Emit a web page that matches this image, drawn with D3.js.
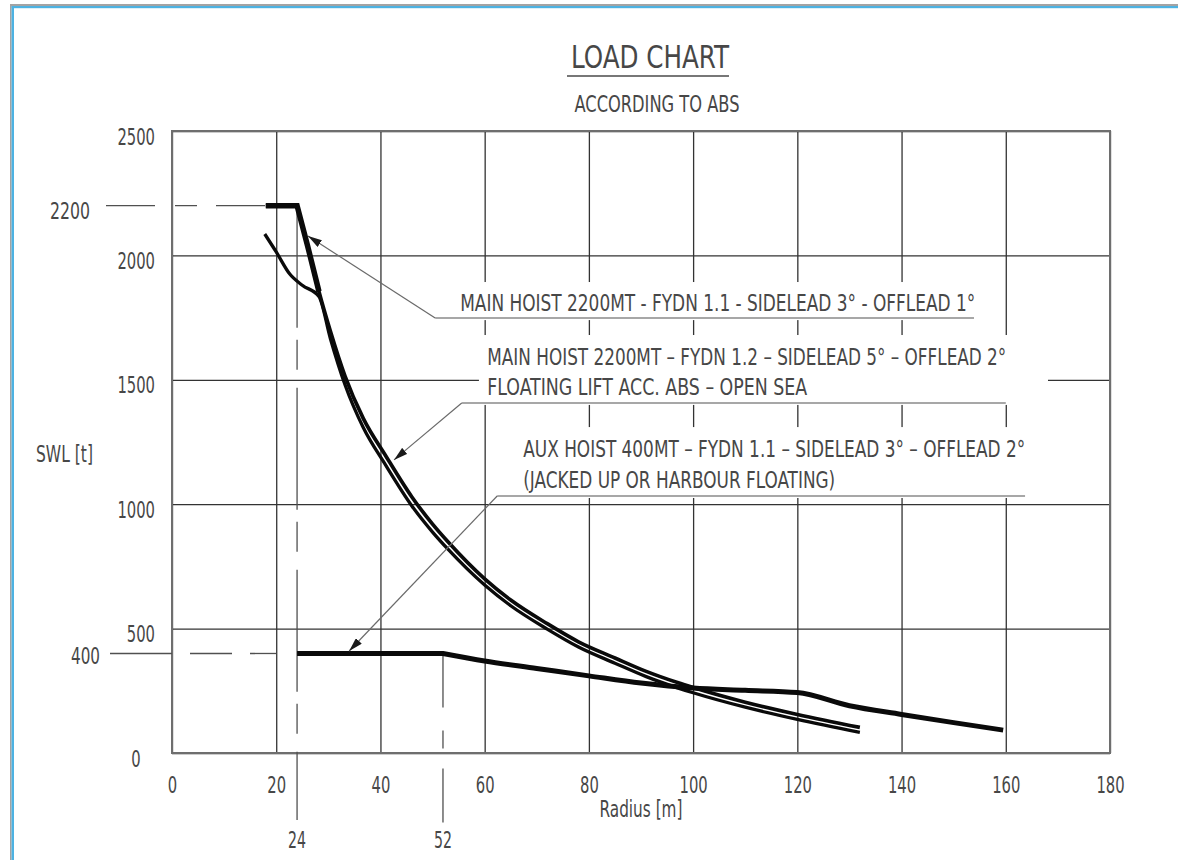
<!DOCTYPE html>
<html>
<head>
<meta charset="utf-8">
<title>Load Chart</title>
<script src="https://cdn.jsdelivr.net/npm/d3@7"></script>
<style>
html,body{margin:0;padding:0;background:#fff;}
svg{display:block;}
</style>
</head>
<body>
<svg id="chart" width="1178" height="860"></svg>
<script>
// ---------------- data ----------------
const radiusTicks = [0, 20, 40, 60, 80, 100, 120, 140, 160, 180];
const swlTicks = [0, 500, 1000, 1500, 2000, 2500];
const markedLoads = [2200, 400];
const markedRadii = [24, 52];

// [radius m, SWL t]
const mainHoist11 = [[18,2200],[24,2200],[26,2040],[28.2,1855],[30.4,1695],[33.2,1515],[36.7,1345],[41,1195],[46,1030],[50,920],[53,848],[60,700],[65,615],[72,520],[78,447],[85,382],[91,328],[97,283],[100,263],[110,204],[120,155],[132,103]];
const mainHoist12 = [[17.8,2086],[20,2014],[22.6,1925],[25,1880],[28.2,1835],[30.4,1665],[33.2,1480],[36.7,1308],[41,1157],[46,994],[50,888],[53,818],[60,675],[65,592],[72,498],[78,426],[85,361],[91,307],[97,262],[100,242],[110,184],[120,135],[132,83]];
const auxHoist400 = [[24,400],[52,400],[60,370],[70,340],[80,310],[90,281],[100,261],[110,252],[120,243],[130,190],[140,155],[150,122],[159.5,92]];

const titleText = "LOAD CHART";
const subtitleText = "ACCORDING TO ABS";
const xAxisLabel = "Radius [m]";
const yAxisLabel = "SWL [t]";
const label1Lines = ["MAIN HOIST 2200MT - FYDN 1.1 - SIDELEAD 3° - OFFLEAD 1°"];
const label2Lines = ["MAIN HOIST 2200MT – FYDN 1.2 – SIDELEAD 5° – OFFLEAD 2°", "FLOATING LIFT ACC. ABS – OPEN SEA"];
const label3Lines = ["AUX HOIST 400MT – FYDN 1.1 – SIDELEAD 3° – OFFLEAD 2°", "(JACKED UP OR HARBOUR FLOATING)"];

// ---------------- layout ----------------
const W = 1178, H = 860;
const FONT = '"Liberation Sans Narrow","DejaVu Sans Condensed","Liberation Sans",sans-serif';
const INK = '#474747';
const GRID = '#333';

const svg = d3.select('#chart');
const x = d3.scaleLinear().domain([0, 180]).range([172, 1110]);
const y = d3.scaleLinear().domain([0, 2500]).range([753, 131]);

// callouts, positioned in data units
const callouts = [
  {lines: label1Lines, textR: 55.3, baseSWL: [1776], widths: [515], lineSWL: 1748, r0: 50.5, r1: 153.9, tip: [26.1, 2078], box: [51.4, 155.1, 1893, 1740]},
  {lines: label2Lines, textR: 60.5, baseSWL: [1560, 1439], widths: [519, 320], lineSWL: 1407, r0: 55.6, r1: 160.0, tip: [42.6, 1178], box: [58.9, 168.1, 1680, 1399]},
  {lines: label3Lines, textR: 67.4, baseSWL: [1190, 1065], widths: [502, 312], lineSWL: 1033, r0: 62.4, r1: 163.7, tip: [34.0, 410], box: [62.9, 164.7, 1310, 1025]}
];

const defs = svg.append('defs');
defs.append('marker').attr('id', 'arrow')
  .attr('viewBox', '0 0 14 8').attr('refX', 14).attr('refY', 4)
  .attr('markerWidth', 14).attr('markerHeight', 8)
  .attr('markerUnits', 'userSpaceOnUse').attr('orient', 'auto')
  .append('path').attr('d', 'M0,0L14,4L0,8Z').attr('fill', '#1a1a1a');

// page frame (top & left)
svg.append('rect').attr('x', 10).attr('y', 4).attr('width', W - 10).attr('height', 2).attr('fill', '#a3a3a3');
svg.append('rect').attr('x', 11.6).attr('y', 6).attr('width', W - 11.6).attr('height', 2.2).attr('fill', '#4db2e2');
svg.append('rect').attr('x', 10).attr('y', 4).attr('width', 1.6).attr('height', H).attr('fill', '#a3a3a3');
svg.append('rect').attr('x', 11.6).attr('y', 6).attr('width', 2.4).attr('height', H).attr('fill', '#4db2e2');

function txt(sel, s, opts) {
  const t = sel.append('text').attr('x', opts.x).attr('y', opts.y)
    .attr('font-family', FONT).attr('font-size', opts.size)
    .attr('fill', INK).attr('text-anchor', opts.anchor || 'start').text(s);
  if (opts.len) t.attr('textLength', opts.len).attr('lengthAdjust', 'spacingAndGlyphs');
  return t;
}

// title
txt(svg, titleText, {x: 650, y: 68, size: 32, anchor: 'middle', len: 158});
svg.append('line').attr('x1', 567).attr('x2', 729).attr('y1', 76).attr('y2', 76)
  .attr('stroke', '#777').attr('stroke-width', 2);
txt(svg, subtitleText, {x: 657, y: 112, size: 23, anchor: 'middle', len: 165});

// grid via axes
const plotW = x(180) - x(0), plotH = y(0) - y(2500);
const gx = svg.append('g').attr('transform', `translate(0,${y(0)})`)
  .call(d3.axisBottom(x).tickValues(radiusTicks).tickSize(-plotH).tickPadding(24).tickFormat(d3.format('d')));
const gy = svg.append('g').attr('transform', `translate(${x(0)},0)`)
  .call(d3.axisLeft(y).tickValues(swlTicks).tickSize(-plotW).tickPadding(17).tickFormat(d3.format('d')));
[gx, gy].forEach(g => {
  g.select('.domain').remove();
  g.selectAll('.tick line').attr('stroke', GRID).attr('stroke-width', 1.3);
  g.selectAll('.tick text').attr('font-family', FONT).attr('font-size', 23).attr('fill', INK)
    .attr('textLength', function () { return 9.4 * this.textContent.length; })
    .attr('lengthAdjust', 'spacingAndGlyphs');
});
gy.selectAll('.tick text').attr('dy', 13);
gy.selectAll('.tick').filter(d => d === 0).select('text').attr('text-anchor', 'middle').attr('x', -36);

// white boxes behind callouts (mask the grid)
callouts.forEach(c => {
  svg.append('rect').attr('x', x(c.box[0])).attr('y', y(c.box[2]))
    .attr('width', x(c.box[1]) - x(c.box[0])).attr('height', y(c.box[3]) - y(c.box[2]))
    .attr('fill', '#fff');
});

// plot frame
svg.append('rect').attr('x', x(0)).attr('y', y(2500)).attr('width', plotW).attr('height', plotH)
  .attr('fill', 'none').attr('stroke', '#6e6e6e').attr('stroke-width', 2);

// reference lines for marked loads / radii
const refStroke = '#505050';
svg.append('line').attr('x1', x(0) - 66).attr('x2', x(mainHoist11[0][0]))
  .attr('y1', y(markedLoads[0])).attr('y2', y(markedLoads[0]))
  .attr('stroke', refStroke).attr('stroke-width', 1.3).attr('stroke-dasharray', '49,20,22,19');
svg.append('line').attr('x1', x(0) - 62).attr('x2', x(20))
  .attr('y1', y(markedLoads[1])).attr('y2', y(markedLoads[1]))
  .attr('stroke', refStroke).attr('stroke-width', 1.3).attr('stroke-dasharray', '62,18,42,18');
svg.append('line').attr('x1', x(markedRadii[0])).attr('x2', x(markedRadii[0]))
  .attr('y1', y(markedLoads[0])).attr('y2', y(0) + 67)
  .attr('stroke', refStroke).attr('stroke-width', 1.3).attr('stroke-dasharray', '122,12,30,18');
svg.append('line').attr('x1', x(markedRadii[1])).attr('x2', x(markedRadii[1]))
  .attr('y1', y(markedLoads[1])).attr('y2', y(0) + 70)
  .attr('stroke', refStroke).attr('stroke-width', 1.3).attr('stroke-dasharray', '54,23,18,20');

txt(svg, String(markedLoads[0]), {x: 90, y: y(markedLoads[0]) + 13, size: 23, anchor: 'end', len: 40});
txt(svg, String(markedLoads[1]), {x: 100, y: y(markedLoads[1]) + 11, size: 23, anchor: 'end', len: 29});
markedRadii.forEach(r => txt(svg, String(r), {x: x(r), y: 848, size: 23, anchor: 'middle', len: 18}));

// load curves
function loadPath(data) {
  let k = 0;
  while (k + 1 < data.length && data[k + 1][1] === data[0][1]) k++;
  const lin = d3.line().x(d => x(d[0])).y(d => y(d[1]));
  const mono = d3.line().x(d => x(d[0])).y(d => y(d[1])).curve(d3.curveMonotoneX);
  const tail = mono(data.slice(k));
  if (k === 0) return tail;
  return lin(data.slice(0, k + 1)) + 'L' + tail.slice(1);
}
const curveG = svg.append('g').attr('fill', 'none').attr('stroke', '#0a0a0a')
  .attr('stroke-linejoin', 'miter').attr('stroke-linecap', 'butt');
curveG.append('path').attr('d', loadPath(mainHoist12)).attr('stroke-width', 3.3);
curveG.append('path').attr('d', loadPath(mainHoist11)).attr('stroke-width', 3.7);
curveG.append('path').attr('d', d3.line().x(d => x(d[0])).y(d => y(d[1]))(mainHoist11.filter(d => d[0] <= 28.2)))
  .attr('stroke-width', 5.5);
curveG.append('path').attr('d', loadPath(auxHoist400)).attr('stroke-width', 5);

// callouts
callouts.forEach(c => {
  svg.append('line').attr('x1', x(c.r0)).attr('x2', x(c.r1))
    .attr('y1', y(c.lineSWL)).attr('y2', y(c.lineSWL))
    .attr('stroke', '#8a8a8a').attr('stroke-width', 1.5);
  svg.append('line').attr('x1', x(c.r0)).attr('y1', y(c.lineSWL))
    .attr('x2', x(c.tip[0])).attr('y2', y(c.tip[1]))
    .attr('stroke', '#6a6a6a').attr('stroke-width', 1.2).attr('marker-end', 'url(#arrow)');
  c.lines.forEach((s, i) => txt(svg, s, {x: x(c.textR), y: y(c.baseSWL[i]), size: 23, len: c.widths[i]}));
});

// axis titles
txt(svg, yAxisLabel, {x: 36, y: 462, size: 23, len: 57});
txt(svg, xAxisLabel, {x: 641, y: 817, size: 23, anchor: 'middle', len: 83});
</script>
</body>
</html>
